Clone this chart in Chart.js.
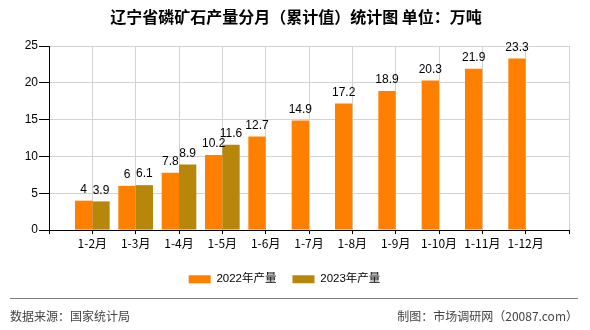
<!DOCTYPE html>
<html>
<head>
<meta charset="utf-8">
<script src="https://cdn.jsdelivr.net/npm/chart.js@4.4.1/dist/chart.umd.min.js"></script>
<style>
  html, body { margin: 0; padding: 0; background: #fff; }
</style>
</head>
<body>
<canvas id="myChart" width="590" height="330"></canvas>
<script>
// Chart - Data
let months = ['1-2月', '1-3月', '1-4月', '1-5月', '1-6月', '1-7月', '1-8月', '1-9月', '1-10月', '1-11月', '1-12月'];
let output2022 = [4, 6, 7.8, 10.2, 12.7, 14.9, 17.2, 18.9, 20.3, 21.9, 23.3];
let output2023 = [3.9, 6.1, 8.9, 11.6];
let yTicks = [0, 5, 10, 15, 20, 25];
let seriesNames = ['2022年产量', '2023年产量'];
let barColors = ['#FF8000', '#B8860B'];

let titleText = '辽宁省磷矿石产量分月（累计值）统计图 单位：万吨';
let sourceText = '数据来源：国家统计局';
let makerText = '制图：市场调研网（20087.com）';

// empty slot at both ends so the labels sit on the grid lines
function pad(arr) {
    let out = [null];
    for (let i = 0; i < months.length; i++) {
        out.push(i < arr.length ? arr[i] : null);
    }
    out.push(null);
    return out;
}
let xLabels = [''].concat(months, ['']);

const cjk = '"Noto Sans CJK SC", "Noto Sans", sans-serif';
const latin = '"Liberation Sans", "Noto Sans CJK SC", sans-serif';

const extras = {
    id: 'extras',
    afterDraw(chart) {
        const ctx = chart.ctx;
        ctx.save();
        // title
        ctx.fillStyle = '#000';
        ctx.font = 'bold 16px ' + cjk;
        ctx.textAlign = 'center';
        ctx.textBaseline = 'middle';
        ctx.fillText(titleText, 296, 17);
        // footer
        ctx.strokeStyle = '#808080';
        ctx.lineWidth = 1;
        ctx.beginPath();
        ctx.moveTo(10, 298.5);
        ctx.lineTo(578, 298.5);
        ctx.stroke();
        ctx.fillStyle = '#444';
        ctx.font = '12px ' + cjk;
        ctx.textAlign = 'left';
        ctx.fillText(sourceText, 10, 316);
        ctx.textAlign = 'right';
        ctx.fillText(makerText, 578, 316);
        ctx.restore();
    },
    afterDatasetsDraw(chart) {
        const ctx = chart.ctx;
        ctx.save();
        ctx.fillStyle = '#000';
        ctx.font = '12px "Liberation Sans", sans-serif';
        ctx.textAlign = 'center';
        ctx.textBaseline = 'bottom';
        chart.data.datasets.forEach((ds, i) => {
            chart.getDatasetMeta(i).data.forEach((bar, j) => {
                if (ds.data[j] == null) return;
                ctx.fillText(String(ds.data[j]), bar.x, bar.y - 5);
            });
        });
        ctx.restore();
    }
};

var myChart = new Chart('myChart', {
    type: 'bar',
    data: {
        labels: xLabels,
        datasets: [{
            label: seriesNames[0],
            data: pad(output2022),
            backgroundColor: barColors[0]
        }, {
            label: seriesNames[1],
            data: pad(output2023),
            backgroundColor: barColors[1]
        }]
    },
    options: {
        responsive: false,
        animation: false,
        categoryPercentage: 0.8,
        barPercentage: 1.0,
        layout: { padding: { top: 46, left: 0, right: 21, bottom: 35 } },
        plugins: {
            legend: {
                position: 'bottom',
                labels: {
                    boxWidth: 22,
                    boxHeight: 8,
                    padding: 16,
                    color: '#000',
                    font: { size: 11.5, family: latin }
                }
            },
            tooltip: { enabled: false }
        },
        scales: {
            x: {
                offset: false,
                afterFit: s => { s.height += 5; },
                grid: {
                    offset: false,
                    color: '#d3d3d3',
                    tickColor: '#000',
                    tickLength: 4
                },
                border: { color: '#000' },
                ticks: {
                    color: '#000',
                    padding: 2,
                    maxRotation: 0,
                    autoSkip: false,
                    font: { size: 12, family: cjk }
                }
            },
            y: {
                min: yTicks[0],
                max: yTicks[yTicks.length - 1],
                afterFit: s => { s.width = 49; },
                grid: {
                    color: '#d3d3d3',
                    tickColor: '#000',
                    tickLength: 10
                },
                border: { color: '#000' },
                ticks: {
                    stepSize: yTicks[1] - yTicks[0],
                    color: '#000',
                    padding: 1,
                    font: { size: 12, family: '"Liberation Sans", Arial, sans-serif' }
                }
            }
        }
    },
    plugins: [extras]
});
</script>
</body>
</html>
